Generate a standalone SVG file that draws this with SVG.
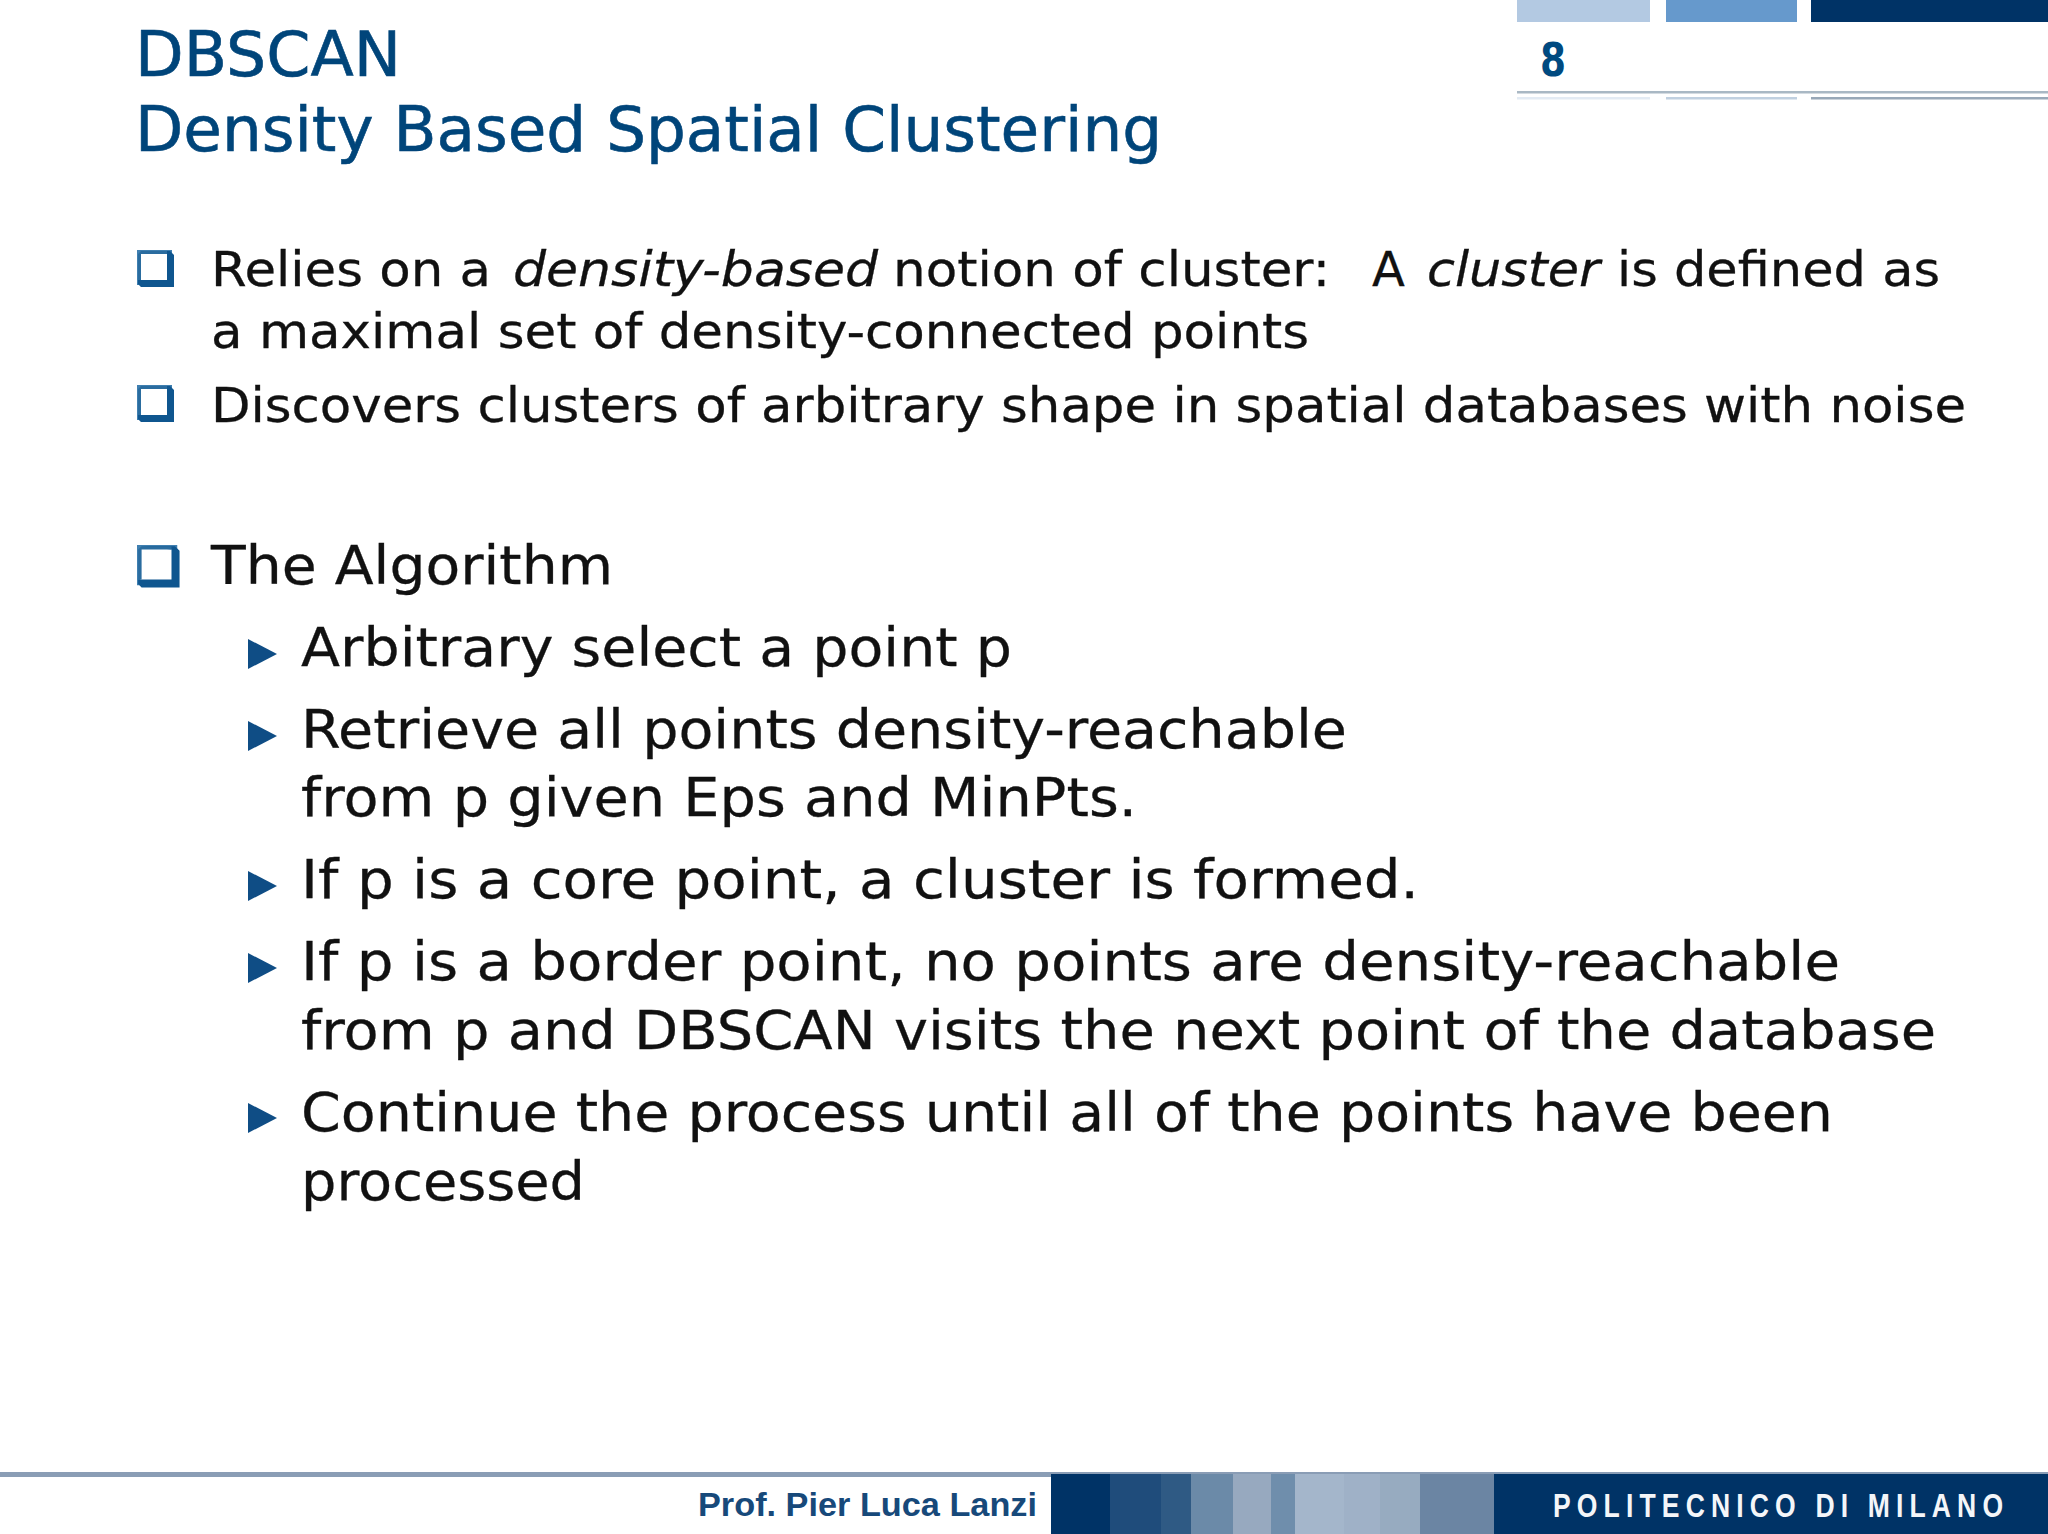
<svg xmlns="http://www.w3.org/2000/svg" width="2048" height="1534" viewBox="0 0 2048 1534">
<defs>
<g id="box"><rect x="1.5" y="1.5" width="32" height="32" fill="#fff" stroke="#3f7fb0" stroke-width="3"/><path d="M4 1H33L37 5V37H4L1 34V30H30V4Z" fill="#0f568f"/><path d="M4 1H30V4H4V30H1V4Z" fill="#2a6c9f"/></g>
<path id="tri" d="M0 0L29 15L0 30Z" fill="#0f4d85"/>
</defs>
<style>
text{font-family:"DejaVu Sans",Verdana,sans-serif;fill:#111;stroke:#111;stroke-width:.3px}
.t{font-size:62px;fill:#00457a;stroke:#00457a;stroke-width:.6px}
.b{font-size:48px}
.c{font-size:54px}
.i{font-style:italic}
</style>
<rect width="2048" height="1534" fill="#fff"/>
<g id="header">
<rect x="1517" y="0" width="133" height="22" fill="#b3c9e2"/>
<rect x="1666" y="0" width="131" height="22" fill="#6699cc"/>
<rect x="1811" y="0" width="237" height="22" fill="#003366"/>
<rect x="1517" y="91" width="531" height="2.5" fill="#a9b8c4"/>
<rect x="1517" y="97" width="133" height="2.5" fill="#e3ebf4"/>
<rect x="1666" y="97" width="131" height="2.5" fill="#c0d0e0"/>
<rect x="1811" y="97" width="237" height="2.5" fill="#98a8b8"/>
<text x="1540" y="76" style="font-size:46px;font-weight:bold;fill:#004a80;stroke:none" textLength="26" lengthAdjust="spacingAndGlyphs">8</text>
</g>
<g id="title">
<text class="t" x="135" y="76" textLength="266" lengthAdjust="spacingAndGlyphs">DBSCAN</text>
<text class="t" x="135" y="151" textLength="1027" lengthAdjust="spacingAndGlyphs">Density Based Spatial Clustering</text>
</g>
<g id="bullets">
<use href="#box" x="137" y="250"/>
<g id="line1">
<text class="b" x="211" y="286" textLength="280" lengthAdjust="spacingAndGlyphs">Relies on a</text>
<text class="b i" x="513" y="286" textLength="365" lengthAdjust="spacingAndGlyphs">density-based</text>
<text class="b" x="893" y="286" textLength="437" lengthAdjust="spacingAndGlyphs">notion of cluster:</text>
<text class="b" x="1372" y="286">A</text>
<text class="b i" x="1427" y="286" textLength="173" lengthAdjust="spacingAndGlyphs">cluster</text>
<text class="b" x="1617" y="286" textLength="323" lengthAdjust="spacingAndGlyphs">is defined as</text>
</g>
<text class="b" x="211" y="348" textLength="1098" lengthAdjust="spacingAndGlyphs">a maximal set of density-connected points</text>
<use href="#box" x="137" y="385"/>
<text class="b" x="211" y="422" textLength="1755" lengthAdjust="spacingAndGlyphs">Discovers clusters of arbitrary shape in spatial databases with noise</text>
<use href="#box" transform="translate(137,545) scale(1.15)"/>
<text class="c" x="211" y="584" textLength="402" lengthAdjust="spacingAndGlyphs">The Algorithm</text>
<use href="#tri" x="248" y="639"/>
<text class="c" x="301" y="666" textLength="711" lengthAdjust="spacingAndGlyphs">Arbitrary select a point p</text>
<use href="#tri" x="248" y="721"/>
<text class="c" x="301" y="748" textLength="1046" lengthAdjust="spacingAndGlyphs">Retrieve all points density-reachable</text>
<text class="c" x="301" y="816" textLength="836" lengthAdjust="spacingAndGlyphs">from p given Eps and MinPts.</text>
<use href="#tri" x="248" y="871"/>
<text class="c" x="301" y="898" textLength="1118" lengthAdjust="spacingAndGlyphs">If p is a core point, a cluster is formed.</text>
<use href="#tri" x="248" y="953"/>
<text class="c" x="301" y="980" textLength="1539" lengthAdjust="spacingAndGlyphs">If p is a border point, no points are density-reachable</text>
<text class="c" x="301" y="1049" textLength="1635" lengthAdjust="spacingAndGlyphs">from p and DBSCAN visits the next point of the database</text>
<use href="#tri" x="248" y="1103"/>
<text class="c" x="301" y="1131" textLength="1532" lengthAdjust="spacingAndGlyphs">Continue the process until all of the points have been</text>
<text class="c" x="301" y="1200" textLength="284" lengthAdjust="spacingAndGlyphs">processed</text>
</g>
<g id="footer">
<rect x="0" y="1472" width="2048" height="5" fill="#8a9db5"/>
<rect x="1051" y="1474" width="997" height="60" fill="#003366"/>
<rect x="1110" y="1474" width="51" height="60" fill="#1f4c7b"/>
<rect x="1161" y="1474" width="30" height="60" fill="#2f5a84"/>
<rect x="1191" y="1474" width="42" height="60" fill="#6b8aa8"/>
<rect x="1233" y="1474" width="38" height="60" fill="#97a9bf"/>
<rect x="1271" y="1474" width="24" height="60" fill="#6f8eac"/>
<rect x="1295" y="1474" width="49" height="60" fill="#a4b6cb"/>
<rect x="1344" y="1474" width="36" height="60" fill="#9fb1c7"/>
<rect x="1380" y="1474" width="40" height="60" fill="#97abc0"/>
<rect x="1420" y="1474" width="74" height="60" fill="#6b85a3"/>
<text x="698" y="1516" style="font-family:'Liberation Sans',Arial,sans-serif;font-size:33px;font-weight:bold;fill:#17497a;stroke:none" textLength="339" lengthAdjust="spacingAndGlyphs">Prof. Pier Luca Lanzi</text>
<text transform="translate(1553,1517) scale(.78,1)" x="0" y="0" style="font-family:'Liberation Sans',Arial,sans-serif;font-size:34px;font-weight:bold;fill:#f4f6f9;stroke:none" textLength="577" lengthAdjust="spacing">POLITECNICO DI MILANO</text>
</g>
</svg>
